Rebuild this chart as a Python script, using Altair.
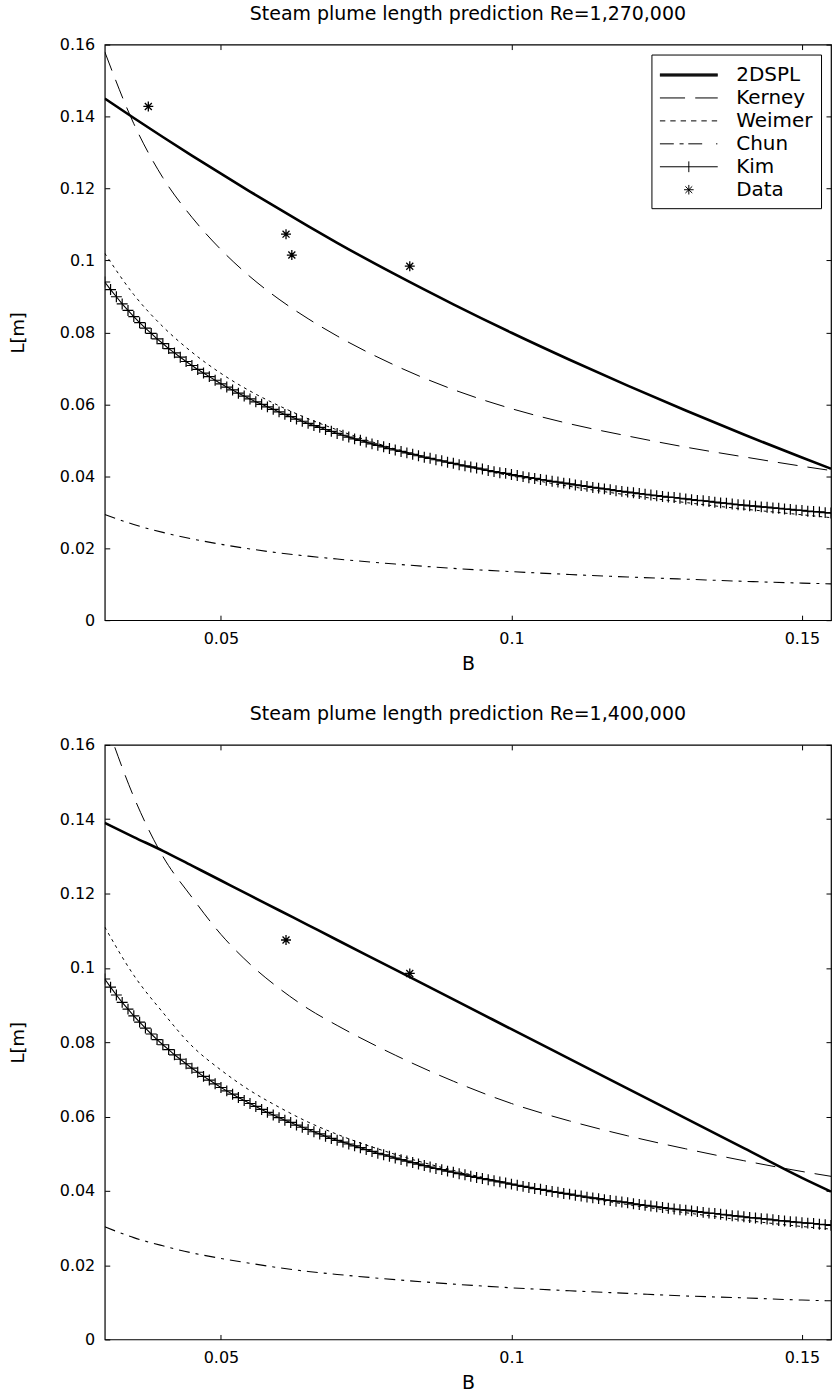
import altair as alt
import pandas as pd

FONT = "DejaVu Sans"
NAMES = ["2DSPL", "Kerney", "Weimer", "Chun", "Kim", "Data"]

# Coarse B grid for the smooth curves
B_coarse = [0.030, 0.035, 0.040, 0.045, 0.050, 0.055, 0.060, 0.065, 0.070,
            0.080, 0.090, 0.100, 0.110, 0.120, 0.130, 0.140, 0.150, 0.155]

# Panel 1 (Re = 1,270,000)
p1_2dspl = [0.1450, 0.1396, 0.1343, 0.12915, 0.1241, 0.11915, 0.1143, 0.10955, 0.1049,
            0.0961, 0.0878, 0.0799, 0.0724, 0.0652, 0.0583, 0.0516, 0.0452, 0.0421]
p1_kerney = [0.158, 0.138, 0.123, 0.112, 0.103, 0.0955, 0.0892, 0.0838, 0.0790,
             0.0708, 0.0641, 0.0588, 0.0546, 0.0512, 0.0481, 0.0454, 0.0428, 0.0416]
p1_weimer = [0.102, 0.0905, 0.0816, 0.0745, 0.0686, 0.0637, 0.0596, 0.056, 0.0529,
             0.0476, 0.0435, 0.0401, 0.0372, 0.0348, 0.0327, 0.0309, 0.0293, 0.0285]
p1_chun = [0.0294, 0.0266, 0.0244, 0.0226, 0.0211, 0.0198, 0.0187, 0.0178, 0.0170,
           0.0156, 0.0144, 0.0135, 0.0127, 0.0120, 0.0114, 0.0108, 0.0103, 0.0101]

# Panel 2 (Re = 1,400,000)
p2_2dspl = [0.139, 0.1352, 0.1315, 0.1275, 0.1235, 0.1195, 0.1155, 0.1115, 0.1075,
            0.0995, 0.0915, 0.0835, 0.0755, 0.0675, 0.0595, 0.0515, 0.0435, 0.0398]
p2_kerney = [0.167, 0.146, 0.130, 0.119, 0.109, 0.101, 0.0945, 0.089, 0.0845,
             0.0765, 0.0695, 0.0635, 0.0588, 0.0548, 0.0513, 0.0481, 0.0452, 0.0439]
p2_weimer = [0.111, 0.098, 0.088, 0.079, 0.0725, 0.067, 0.0625, 0.0585, 0.0552,
             0.0498, 0.0455, 0.0419, 0.0389, 0.0363, 0.0341, 0.0321, 0.0304, 0.0297]
p2_chun = [0.0303, 0.0274, 0.0252, 0.0233, 0.0218, 0.0205, 0.0193, 0.0183, 0.0175,
           0.0161, 0.0149, 0.0139, 0.0131, 0.0124, 0.0117, 0.0112, 0.0106, 0.0104]

# Fine B grid for the Kim curve (one '+' marker per point)
B_fine = [0.030, 0.031, 0.032, 0.033, 0.034, 0.035, 0.036, 0.037, 0.038, 0.039,
          0.040, 0.041, 0.042, 0.043, 0.044, 0.045, 0.046, 0.047, 0.048, 0.049,
          0.050, 0.051, 0.052, 0.053, 0.054, 0.055, 0.056, 0.057, 0.058, 0.059,
          0.060, 0.061, 0.062, 0.063, 0.064, 0.065, 0.066, 0.067, 0.068, 0.069,
          0.070, 0.071, 0.072, 0.073, 0.074, 0.075, 0.076, 0.077, 0.078, 0.079,
          0.080, 0.081, 0.082, 0.083, 0.084, 0.085, 0.086, 0.087, 0.088, 0.089,
          0.090, 0.091, 0.092, 0.093, 0.094, 0.095, 0.096, 0.097, 0.098, 0.099,
          0.100, 0.101, 0.102, 0.103, 0.104, 0.105, 0.106, 0.107, 0.108, 0.109,
          0.110, 0.111, 0.112, 0.113, 0.114, 0.115, 0.116, 0.117, 0.118, 0.119,
          0.120, 0.121, 0.122, 0.123, 0.124, 0.125, 0.126, 0.127, 0.128, 0.129,
          0.130, 0.131, 0.132, 0.133, 0.134, 0.135, 0.136, 0.137, 0.138, 0.139,
          0.140, 0.141, 0.142, 0.143, 0.144, 0.145, 0.146, 0.147, 0.148, 0.149,
          0.150, 0.151, 0.152, 0.153, 0.154, 0.155]

p1_kim = [0.0940, 0.0919, 0.0899, 0.0879, 0.0861, 0.0844, 0.0827, 0.0812, 0.0797, 0.0782,
          0.0769, 0.0755, 0.0743, 0.0731, 0.0719, 0.0708, 0.0697, 0.0687, 0.0677, 0.0667,
          0.0657, 0.0648, 0.0640, 0.0631, 0.0623, 0.0615, 0.0607, 0.0600, 0.0593, 0.0586,
          0.0579, 0.0572, 0.0566, 0.0559, 0.0553, 0.0547, 0.0541, 0.0536, 0.0530, 0.0525,
          0.0519, 0.0514, 0.0509, 0.0504, 0.0500, 0.0495, 0.0490, 0.0486, 0.0482, 0.0477,
          0.0473, 0.0469, 0.0465, 0.0461, 0.0457, 0.0453, 0.0450, 0.0446, 0.0443, 0.0439,
          0.0436, 0.0432, 0.0429, 0.0426, 0.0423, 0.0420, 0.0416, 0.0413, 0.0410, 0.0408,
          0.0405, 0.0402, 0.0399, 0.0396, 0.0394, 0.0391, 0.0389, 0.0386, 0.0384, 0.0381,
          0.0379, 0.0376, 0.0374, 0.0372, 0.0369, 0.0367, 0.0365, 0.0363, 0.0360, 0.0358,
          0.0356, 0.0354, 0.0352, 0.0350, 0.0348, 0.0346, 0.0344, 0.0342, 0.0341, 0.0339,
          0.0337, 0.0335, 0.0333, 0.0332, 0.0330, 0.0328, 0.0326, 0.0325, 0.0323, 0.0321,
          0.0320, 0.0318, 0.0317, 0.0315, 0.0314, 0.0312, 0.0311, 0.0309, 0.0308, 0.0306,
          0.0305, 0.0303, 0.0302, 0.0301, 0.0299, 0.0298]

p2_kim = [0.0970, 0.0948, 0.0927, 0.0907, 0.0889, 0.0871, 0.0854, 0.0838, 0.0822, 0.0807,
          0.0793, 0.0780, 0.0766, 0.0754, 0.0742, 0.0730, 0.0719, 0.0708, 0.0698, 0.0688,
          0.0678, 0.0669, 0.0660, 0.0651, 0.0643, 0.0635, 0.0627, 0.0619, 0.0611, 0.0604,
          0.0597, 0.0590, 0.0584, 0.0577, 0.0571, 0.0565, 0.0559, 0.0553, 0.0547, 0.0541,
          0.0536, 0.0531, 0.0526, 0.0521, 0.0516, 0.0511, 0.0506, 0.0501, 0.0497, 0.0493,
          0.0488, 0.0484, 0.0480, 0.0476, 0.0472, 0.0468, 0.0464, 0.0460, 0.0457, 0.0453,
          0.0450, 0.0446, 0.0443, 0.0439, 0.0436, 0.0433, 0.0430, 0.0427, 0.0424, 0.0421,
          0.0418, 0.0415, 0.0412, 0.0409, 0.0406, 0.0404, 0.0401, 0.0398, 0.0396, 0.0393,
          0.0391, 0.0388, 0.0386, 0.0383, 0.0381, 0.0379, 0.0376, 0.0374, 0.0372, 0.0370,
          0.0368, 0.0365, 0.0363, 0.0361, 0.0359, 0.0357, 0.0355, 0.0353, 0.0351, 0.0349,
          0.0348, 0.0346, 0.0344, 0.0342, 0.0340, 0.0339, 0.0337, 0.0335, 0.0333, 0.0332,
          0.0330, 0.0328, 0.0327, 0.0325, 0.0324, 0.0322, 0.0320, 0.0319, 0.0317, 0.0316,
          0.0314, 0.0313, 0.0312, 0.0310, 0.0309, 0.0307]

# Measured data points
p1_data_B = [0.0375, 0.0612, 0.0622, 0.0825]
p1_data_L = [0.1428, 0.1073, 0.1015, 0.0984]
p2_data_B = [0.0612, 0.0825]
p2_data_L = [0.1075, 0.0985]

Y_TICKS = [0, 0.02, 0.04, 0.06, 0.08, 0.1, 0.12, 0.14, 0.16]
X_TICKS = [0.05, 0.1, 0.15]

# Legend symbols (custom SVG paths, unit = 12 px)
LEGEND_PATHS = [
    "M-1,-0.09H3.83M-1,-0.03H3.83M-1,0.03H3.83M-1,0.09H3.83",
    "M-1,0H1.1M1.95,0H3.83",
    "M-1,0H-0.55M-0.134,0H0.316M0.732,0H1.182M1.598,0H2.048M2.464,0H2.914M3.33,0H3.78",
    "M-1,0H0.16M0.64,0H0.98M1.37,0H2.53M3.69,0H3.8",
    "M-1,0H3.83M1.415,-0.45V0.45",
    "M1.015,0H1.815M1.415,-0.4V0.4M1.13,-0.28L1.7,0.28M1.13,0.28L1.7,-0.28",
]
PLUS = "M-1,0H1M0,-1V1"
STAR = "M-1,0H1M0,-1V1M-0.7,-0.7L0.7,0.7M-0.7,0.7L0.7,-0.7"


def panel(title, y2d, yker, ywei, ychun, ykim, dB, dL, h):
    xs = alt.Scale(domain=[0.03, 0.155], nice=False, zero=False)
    ys = alt.Scale(domain=[0, 0.16], nice=False, zero=False)
    curves = pd.DataFrame({"B": B_coarse, "s2d": y2d, "ker": yker,
                           "wei": ywei, "chun": ychun})
    kim = pd.DataFrame({"B": B_fine, "L": ykim})
    pts = pd.DataFrame({"B": dB, "L": dL})
    leg = pd.DataFrame({"series": NAMES})

    x_main = alt.X("B:Q", scale=xs, title="B", axis=alt.Axis(
        orient="bottom", values=X_TICKS, format="~g", offset=-5, tickSize=5,
        domain=False, grid=False, labelPadding=10, labelFontSize=16, labelFont=FONT,
        labelColor="black", tickColor="black", titleFont=FONT, titleFontSize=19,
        titleFontWeight="normal", titleColor="black", titlePadding=8))
    y_main = alt.Y("s2d:Q", scale=ys, title="L[m]", axis=alt.Axis(
        orient="left", values=Y_TICKS, format="~g", offset=-5, tickSize=5,
        domain=False, grid=False, labelPadding=10, labelFontSize=16, labelFont=FONT,
        labelColor="black", tickColor="black", titleFont=FONT, titleFontSize=18,
        titleFontWeight="normal", titleColor="black", titlePadding=32))

    base = alt.Chart(curves)
    l_2d = base.mark_line(color="black", strokeWidth=2.6, clip=True,
                          interpolate="monotone").encode(x=x_main, y=y_main)
    l_ker = base.mark_line(color="black", strokeWidth=1, strokeDash=[20, 10], clip=True,
                           interpolate="monotone").encode(
        x=alt.X("B:Q", scale=xs, axis=None), y=alt.Y("ker:Q", scale=ys, axis=None))
    l_wei = base.mark_line(color="black", strokeWidth=1, strokeDash=[3, 4], clip=True,
                           interpolate="monotone").encode(
        x=alt.X("B:Q", scale=xs, axis=None), y=alt.Y("wei:Q", scale=ys, axis=None))
    l_chun = base.mark_line(color="black", strokeWidth=1.1, strokeDash=[11, 6, 3, 6], clip=True,
                            interpolate="monotone").encode(
        x=alt.X("B:Q", scale=xs, axis=alt.Axis(
            orient="top", values=X_TICKS, labels=False, offset=-5, tickSize=5,
            domain=False, grid=False, tickColor="black", title=None)),
        y=alt.Y("chun:Q", scale=ys, axis=alt.Axis(
            orient="right", values=Y_TICKS, labels=False, offset=-5, tickSize=5,
            domain=False, grid=False, tickColor="black", title=None)))
    kim_line = alt.Chart(kim).mark_line(color="black", strokeWidth=1.1, clip=True).encode(
        x=alt.X("B:Q", scale=xs, axis=None), y=alt.Y("L:Q", scale=ys, axis=None))
    kim_pts = alt.Chart(kim).mark_point(shape=PLUS, filled=False, color="black",
                                        strokeWidth=1.2, size=120, opacity=1, clip=True).encode(
        x=alt.X("B:Q", scale=xs, axis=None), y=alt.Y("L:Q", scale=ys, axis=None))
    data_pts = alt.Chart(pts).mark_point(shape=STAR, filled=False, color="black",
                                         strokeWidth=1.3, size=100, opacity=1).encode(
        x=alt.X("B:Q", scale=xs, axis=None), y=alt.Y("L:Q", scale=ys, axis=None))
    legend_layer = alt.Chart(leg).mark_point(filled=False, color="black", opacity=1).encode(
        shape=alt.Shape("series:N", scale=alt.Scale(domain=NAMES, range=LEGEND_PATHS),
                        legend=alt.Legend(
                            title=None, orient="top-right", offset=10, padding=8,
                            strokeColor="black", fillColor="white",
                            labelFont=FONT, labelFontSize=20, labelColor="black",
                            labelOffset=52, rowPadding=0, symbolSize=576,
                            symbolStrokeWidth=1, symbolStrokeColor="black",
                            symbolOpacity=1))
    ).transform_filter("false")

    return alt.layer(l_2d, l_ker, l_wei, l_chun, kim_line, kim_pts, data_pts, legend_layer).resolve_axis(
        x="independent", y="independent").properties(
        width=728, height=h,
        title=alt.TitleParams(title, font=FONT, fontSize=19, fontWeight="normal",
                              color="black", anchor="middle", offset=13))


top = panel("Steam plume length prediction Re=1,270,000",
            p1_2dspl, p1_kerney, p1_weimer, p1_chun, p1_kim, p1_data_B, p1_data_L, 577)
bottom = panel("Steam plume length prediction Re=1,400,000",
               p2_2dspl, p2_kerney, p2_weimer, p2_chun, p2_kim, p2_data_B, p2_data_L, 596)

chart = alt.vconcat(top, bottom, spacing=30).properties(
    padding={"left": 8, "top": 2, "right": 0, "bottom": 0},
    background="white",
).configure_view(stroke="black", strokeWidth=1.2)

chart.save("out.html", embed_options={"renderer": "svg", "actions": False})
